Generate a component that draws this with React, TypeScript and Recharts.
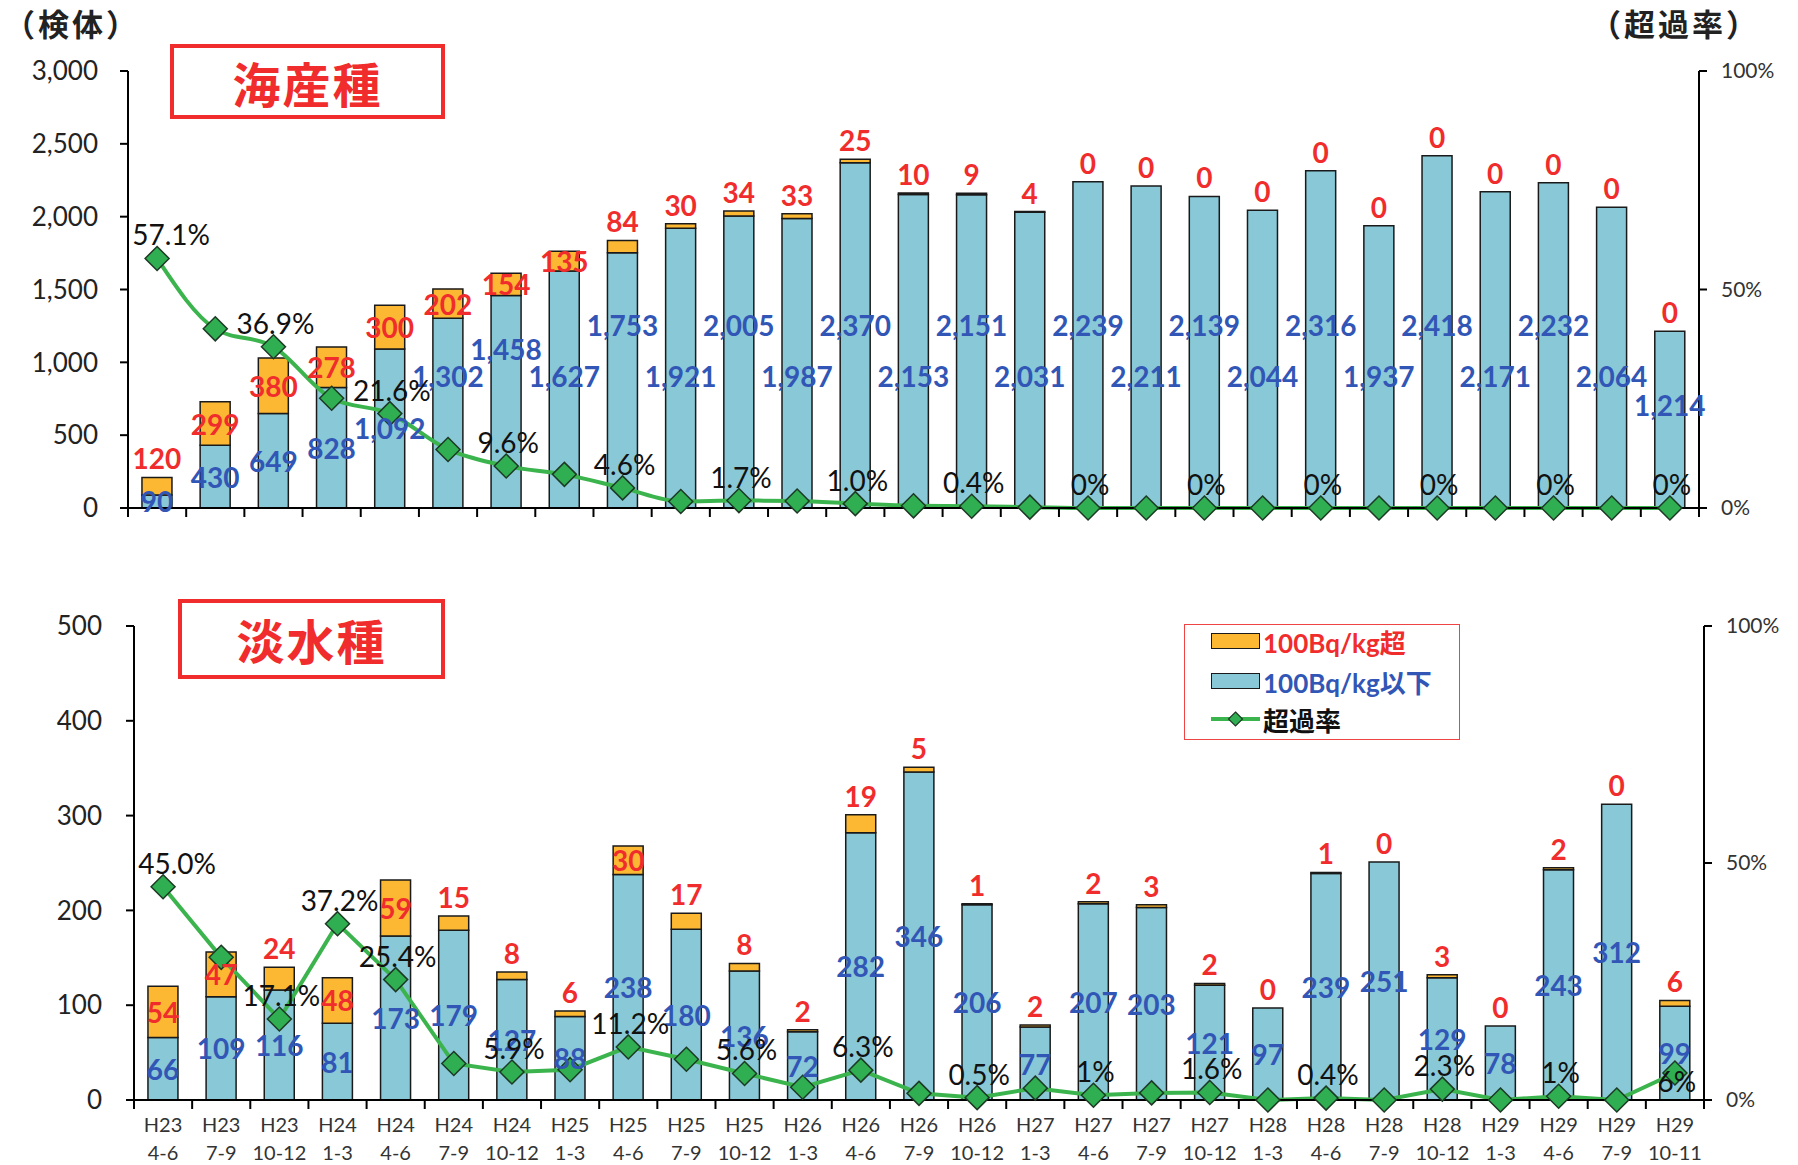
import React from "react"
import { Bar, ComposedChart, LabelList, Line, XAxis, YAxis } from "recharts"

// quarters (year / months)
const categories = [
  "H23 4-6", "H23 7-9", "H23 10-12", "H24 1-3", "H24 4-6", "H24 7-9", "H24 10-12",
  "H25 1-3", "H25 4-6", "H25 7-9", "H25 10-12", "H26 1-3", "H26 4-6", "H26 7-9",
  "H26 10-12", "H27 1-3", "H27 4-6", "H27 7-9", "H27 10-12", "H28 1-3", "H28 4-6",
  "H28 7-9", "H28 10-12", "H29 1-3", "H29 4-6", "H29 7-9", "H29 10-11",
]

// 海産種
const marineBelow = [
  90, 430, 649, 828, 1092, 1302, 1458, 1627, 1753, 1921, 2005, 1987, 2370, 2153,
  2151, 2031, 2239, 2211, 2139, 2044, 2316, 1937, 2418, 2171, 2232, 2064, 1214,
]
const marineOver = [
  120, 299, 380, 278, 300, 202, 154, 135, 84, 30, 34, 33, 25, 10,
  9, 4, 0, 0, 0, 0, 0, 0, 0, 0, 0, 0, 0,
]
const marineRate = [
  57.1, 41.0, 36.9, 25.1, 21.6, 13.4, 9.6, 7.7, 4.6, 1.5, 1.7, 1.6, 1.0, 0.5,
  0.4, 0.2, 0, 0, 0, 0, 0, 0, 0, 0, 0, 0, 0,
]
const marineRateLabels = [
  "57.1%", "", "36.9%", "", "21.6%", "", "9.6%", "", "4.6%", "", "1.7%", "", "1.0%", "",
  "0.4%", "", "0%", "", "0%", "", "0%", "", "0%", "", "0%", "", "0%",
]

// 淡水種
const freshBelow = [
  66, 109, 116, 81, 173, 179, 127, 88, 238, 180, 136, 72, 282, 346,
  206, 77, 207, 203, 121, 97, 239, 251, 129, 78, 243, 312, 99,
]
const freshOver = [
  54, 47, 24, 48, 59, 15, 8, 6, 30, 17, 8, 2, 19, 5,
  1, 2, 2, 3, 2, 0, 1, 0, 3, 0, 2, 0, 6,
]
const freshRate = [
  45.0, 30.1, 17.1, 37.2, 25.4, 7.7, 5.9, 6.4, 11.2, 8.6, 5.6, 2.7, 6.3, 1.4,
  0.5, 2.5, 1.0, 1.5, 1.6, 0, 0.4, 0, 2.3, 0, 0.8, 0, 5.7,
]
const freshRateLabels = [
  "45.0%", "", "17.1%", "37.2%", "25.4%", "", "5.9%", "", "11.2%", "", "5.6%", "", "6.3%", "",
  "0.5%", "", "1%", "", "1.6%", "", "0.4%", "", "2.3%", "", "1%", "", "6%",
]

const marineTicks = [0, 500, 1000, 1500, 2000, 2500, 3000]
const freshTicks = [0, 100, 200, 300, 400, 500]
const rateTicks = [0, 50, 100]

const BLUE = "#88c8d7"
const ORANGE = "#fcb833"
const RED = "#f02c2c"
const BLUE_TEXT = "#3156b6"
const GREEN = "#3cb44e"
const NUM_FONT = "Lato, 'Noto Sans CJK JP', sans-serif"
const JP_FONT = "'Noto Sans CJK JP', sans-serif"

const W = 1798
const N = categories.length

type Row = { cat: string; below: number; over: number; rate: number; rateLabel: string }

const buildRows = (below: number[], over: number[], rate: number[], labels: string[]): Row[] =>
  categories.map((cat, i) => ({ cat, below: below[i], over: over[i], rate: rate[i], rateLabel: labels[i] }))

const marineData = buildRows(marineBelow, marineOver, marineRate, marineRateLabels)
const freshData = buildRows(freshBelow, freshOver, freshRate, freshRateLabels)

interface PanelProps {
  data: Row[]
  height: number
  top: number
  marginTop: number
  marginBottom: number
  leftWidth: number
  rightWidth: number
  leftTickMargin: number
  yMax: number
  yTicks: number[]
  xHeight: number
  showXLabels: boolean
  curve: "monotone" | "linear"
  staggerBlue: boolean
  lastRateBelow: boolean
  insideMin: number
}

function Panel(p: PanelProps) {
  const plotLeft = p.leftWidth
  const plotRight = W - p.rightWidth
  const plotHeight = p.height - p.marginTop - p.marginBottom - p.xHeight
  const band = (plotRight - plotLeft) / N
  const half = band / 2
  const idxOf = (x: number, w: number) => Math.round((x + w / 2 - plotLeft) / band - 0.5)

  const renderXTick = (t: any) => {
    const { x, y, payload } = t
    const index = t.index ?? payload?.index ?? 0
    const [yr, mo] = String(payload.value).split(" ")
    return (
      <g>
        <line x1={x - half} x2={x - half} y1={y} y2={y + 9} stroke="#000" strokeWidth={2} />
        {index === N - 1 && (
          <line x1={x + half} x2={x + half} y1={y} y2={y + 9} stroke="#000" strokeWidth={2} />
        )}
        {p.showXLabels && (
          <>
            <text x={x} y={y + 24} textAnchor="middle" dominantBaseline="central" fontSize={20} fill="#333" fontFamily={NUM_FONT}>
              {yr}
            </text>
            <text x={x} y={y + 52} textAnchor="middle" dominantBaseline="central" fontSize={20} fill="#333" fontFamily={NUM_FONT}>
              {mo}
            </text>
          </>
        )}
      </g>
    )
  }

  const renderBlueLabel = (lp: any) => {
    const vb = lp.viewBox ?? lp
    const { x, y, width, height } = vb
    const i = idxOf(x, width)
    let cy = y + height / 2
    if (p.staggerBlue && i >= 5) {
      const row = i % 2 === 0 ? 183 : 132
      const off = height > 185 ? Math.min(row, 0.75 * height) : 0.58 * height
      cy = y + height - off
    }
    return (
      <text x={x + width / 2} y={cy} textAnchor="middle" dominantBaseline="central" fontSize={28} fontWeight={700} fill={BLUE_TEXT} fontFamily={NUM_FONT}>
        {Number(lp.value).toLocaleString("en-US")}
      </text>
    )
  }

  // drawn from the blue segment, so zero-height orange parts still get their "0"
  const renderRedLabel = (lp: any) => {
    const vb = lp.viewBox ?? lp
    const { x, y, width } = vb
    const v = Number(lp.value)
    const oh = (v / p.yMax) * plotHeight
    const top = y - oh
    const cy = oh > p.insideMin ? top + oh / 2 : top - 19
    return (
      <text x={x + width / 2} y={cy} textAnchor="middle" dominantBaseline="central" fontSize={28} fontWeight={700} fill={RED} fontFamily={NUM_FONT}>
        {v.toLocaleString("en-US")}
      </text>
    )
  }

  const renderRateLabel = (lp: any) => {
    const vb = lp.viewBox ?? lp
    if (!lp.value) return null
    const first = vb.x < plotLeft + band
    const last = vb.x > plotRight - band
    const dy = p.lastRateBelow && last ? 8 : -24
    return (
      <text x={vb.x + (first ? 14 : 2)} y={vb.y + dy} textAnchor="middle" dominantBaseline="central" fontSize={28} fill="#111" fontFamily={NUM_FONT}>
        {lp.value}
      </text>
    )
  }

  const renderDiamond = (dp: any) => {
    const { cx, cy, index } = dp
    if (cx == null || cy == null) return <g key={`d${index}`} />
    const r = 12
    return (
      <polygon
        key={`d${index}`}
        points={`${cx},${cy - r} ${cx + r},${cy} ${cx},${cy + r} ${cx - r},${cy}`}
        fill="#2fae52"
        stroke="#1d3a24"
        strokeWidth={1.5}
      />
    )
  }

  return (
    <div style={{ position: "absolute", left: 0, top: p.top }}>
      <ComposedChart
        width={W}
        height={p.height}
        data={p.data}
        margin={{ top: p.marginTop, right: 0, bottom: p.marginBottom, left: 0 }}
        barCategoryGap="24%"
      >
        <XAxis
          dataKey="cat"
          xAxisId="x"
          interval={0}
          height={p.xHeight}
          tickSize={0}
          tickMargin={0}
          tickLine={false}
          axisLine={{ stroke: "#000", strokeWidth: 2 }}
          tick={renderXTick}
        />
        <YAxis
          yAxisId="l"
          type="number"
          domain={[0, p.yMax]}
          ticks={p.yTicks}
          interval={0}
          width={p.leftWidth}
          tickSize={8}
          tickMargin={p.leftTickMargin}
          axisLine={{ stroke: "#000", strokeWidth: 2 }}
          tickLine={{ stroke: "#000", strokeWidth: 2 }}
          tick={{ fontSize: 26, fill: "#222", fontFamily: NUM_FONT }}
          tickFormatter={(v: number) => v.toLocaleString("en-US")}
        />
        <YAxis
          yAxisId="r"
          orientation="right"
          type="number"
          domain={[0, 100]}
          ticks={rateTicks}
          interval={0}
          width={p.rightWidth}
          tickSize={8}
          tickMargin={14}
          axisLine={{ stroke: "#000", strokeWidth: 2 }}
          tickLine={{ stroke: "#000", strokeWidth: 2 }}
          tick={{ fontSize: 21, fill: "#333", fontFamily: NUM_FONT, textAnchor: "start" }}
          tickFormatter={(v: number) => `${v}%`}
        />
        <Bar xAxisId="x" yAxisId="l" dataKey="below" stackId="s" fill={BLUE} stroke="#1a1a1a" strokeWidth={1.5} isAnimationActive={false}>
          <LabelList dataKey="below" content={renderBlueLabel} />
          <LabelList dataKey="over" content={renderRedLabel} />
        </Bar>
        <Bar xAxisId="x" yAxisId="l" dataKey="over" stackId="s" fill={ORANGE} stroke="#1a1a1a" strokeWidth={1.5} isAnimationActive={false} />
        <Line
          xAxisId="x"
          yAxisId="r"
          type={p.curve}
          dataKey="rate"
          stroke={GREEN}
          strokeWidth={4}
          dot={renderDiamond}
          activeDot={false}
          isAnimationActive={false}
        >
          <LabelList dataKey="rateLabel" content={renderRateLabel} />
        </Line>
      </ComposedChart>
    </div>
  )
}

function TitleBox({ text, left, top, width, height }: { text: string; left: number; top: number; width: number; height: number }) {
  return (
    <div
      style={{
        position: "absolute",
        left,
        top,
        width,
        height,
        boxSizing: "border-box",
        border: `4px solid ${RED}`,
        background: "#fff",
        display: "flex",
        alignItems: "center",
        justifyContent: "center",
        color: RED,
        fontFamily: JP_FONT,
        fontWeight: 700,
        fontSize: 48,
        letterSpacing: 2,
      }}
    >
      {text}
    </div>
  )
}

function LegendBox() {
  const rowStyle: React.CSSProperties = {
    position: "absolute",
    left: 26,
    display: "flex",
    alignItems: "center",
    height: 30,
    fontFamily: NUM_FONT,
    fontWeight: 700,
    fontSize: 26,
    whiteSpace: "nowrap",
  }
  const swatch = (fill: string) => (
    <div style={{ width: 49, height: 16, background: fill, border: "1.5px solid #1a1a1a", boxSizing: "border-box", marginRight: 3 }} />
  )
  return (
    <div
      style={{
        position: "absolute",
        left: 1184,
        top: 624,
        width: 276,
        height: 116,
        boxSizing: "border-box",
        border: "1.5px solid #ee4444",
        background: "#fff",
      }}
    >
      <div style={{ ...rowStyle, top: 1, color: RED }}>
        {swatch(ORANGE)}
        <span>100Bq/kg<span style={{ fontFamily: JP_FONT }}>超</span></span>
      </div>
      <div style={{ ...rowStyle, top: 41, color: BLUE_TEXT }}>
        {swatch(BLUE)}
        <span>100Bq/kg<span style={{ fontFamily: JP_FONT }}>以下</span></span>
      </div>
      <div style={{ ...rowStyle, top: 79, color: "#111" }}>
        <svg width={49} height={20} style={{ marginRight: 3 }}>
          <line x1={0} x2={49} y1={10} y2={10} stroke={GREEN} strokeWidth={4} />
          <polygon points="24.5,3 31.5,10 24.5,17 17.5,10" fill="#2fae52" stroke="#1d3a24" strokeWidth={1.2} />
        </svg>
        <span style={{ fontFamily: JP_FONT }}>超過率</span>
      </div>
    </div>
  )
}

export default function App() {
  const unitStyle: React.CSSProperties = {
    position: "absolute",
    top: 0,
    fontFamily: JP_FONT,
    fontWeight: 700,
    fontSize: 31,
    letterSpacing: 3,
    color: "#222",
    whiteSpace: "nowrap",
  }
  return (
    <div style={{ position: "absolute", left: 0, top: 0, width: W, height: 1165, background: "#fff", overflow: "hidden" }}>
      <Panel
        data={marineData}
        height={560}
        top={0}
        marginTop={71}
        marginBottom={22}
        leftWidth={128}
        rightWidth={99}
        leftTickMargin={22}
        yMax={3000}
        yTicks={marineTicks}
        xHeight={30}
        showXLabels={false}
        curve="monotone"
        staggerBlue={true}
        lastRateBelow={false}
        insideMin={19}
      />
      <Panel
        data={freshData}
        height={605}
        top={560}
        marginTop={66}
        marginBottom={10}
        leftWidth={134}
        rightWidth={94}
        leftTickMargin={24}
        yMax={500}
        yTicks={freshTicks}
        xHeight={55}
        showXLabels={true}
        curve="linear"
        staggerBlue={false}
        lastRateBelow={true}
        insideMin={23}
      />
      <div style={{ ...unitStyle, left: 4 }}>（検体）</div>
      <div style={{ ...unitStyle, left: 1590 }}>（超過率）</div>
      <TitleBox text="海産種" left={170} top={44} width={275} height={75} />
      <TitleBox text="淡水種" left={178} top={599} width={267} height={80} />
      <LegendBox />
    </div>
  )
}
